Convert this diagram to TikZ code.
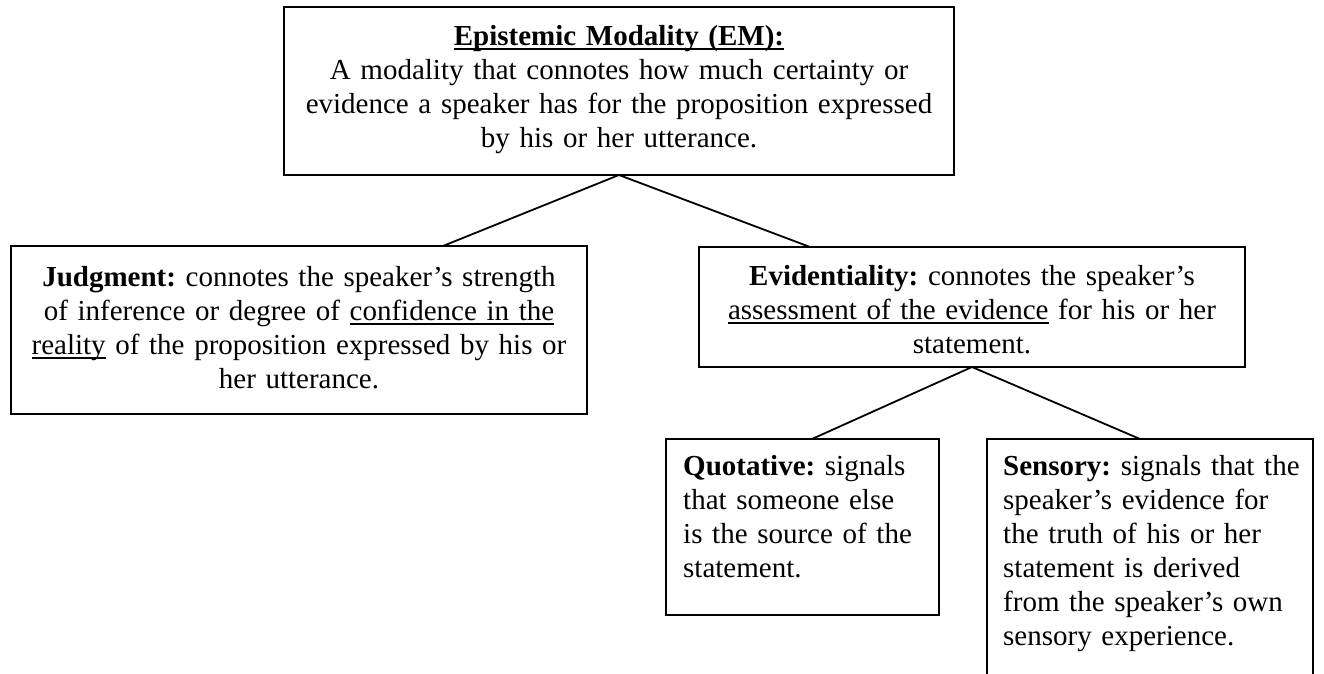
\documentclass[tikz,border=0pt]{standalone}
\usepackage{fontspec}
\setmainfont{Liberation Serif}
\frenchspacing
\newsavebox\ulbox
\newcommand{\myul}[1]{\leavevmode\sbox\ulbox{#1}\rlap{\rule[-4.5pt]{\wd\ulbox}{1.6pt}}\usebox\ulbox}
\begin{document}
\begin{tikzpicture}[x=1pt,y=-1pt,
  box/.style={draw, line width=1.8pt, rectangle, inner sep=0pt, outer sep=0pt, anchor=north west},
  txt/.style={inner sep=0pt, anchor=north, font=\fontsize{29}{34}\selectfont\frenchspacing},
  link/.style={line width=1.8pt}]
\useasboundingbox (0,0) rectangle (1324,674);
\fill[white] (0,0) rectangle (1324,674);
% boxes
\node[box, minimum width=670pt, minimum height=168pt] (topbox) at (284,7) {};
\node[box, minimum width=576pt, minimum height=168pt] (judbox) at (11,246) {};
\node[box, minimum width=546pt, minimum height=120pt] (evibox) at (699,247) {};
\node[box, minimum width=273pt, minimum height=176pt] (quobox) at (666,439) {};
\node[box, minimum width=326pt, minimum height=300pt] (senbox) at (987,439) {};
% texts
\node[txt, text width=660pt, align=center] (toptext) at (619,21.2)
  {\strut\myul{\textbf{Epistemic Modality (EM):}}\\
   A modality that connotes how much certainty or\\
   evidence a speaker has for the proposition expressed\\
   by his or her utterance.};
\node[txt, text width=560pt, align=center] (judtext) at (299,262.2)
  {\strut\textbf{Judgment:} connotes the speaker’s strength\\
   of inference or degree of \myul{confidence in the}\\
   \myul{reality} of the proposition expressed by his or\\
   her utterance.};
\node[txt, text width=530pt, align=center] (evitext) at (972,261.2)
  {\strut\textbf{Evidentiality:} connotes the speaker’s\\
   \myul{assessment of the evidence} for his or her\\
   statement.};
\node[txt, anchor=north west, text width=250pt, align=left] (quotext) at (683,451)
  {\strut\textbf{Quotative:} signals\\
   that someone else\\
   is the source of the\\
   statement.};
\node[txt, anchor=north west, text width=330pt, align=left] (sentext) at (1003,451)
  {\strut\textbf{Sensory:} signals that the\\
   speaker’s evidence for\\
   the truth of his or her\\
   statement is derived\\
   from the speaker’s own\\
   sensory experience.};
% connectors
\draw[link] (topbox.south) -- ([xshift=144pt]judbox.north);
\draw[link] (topbox.south) -- ([xshift=-162pt]evibox.north);
\draw[link] (evibox.south) -- ([xshift=9.5pt]quobox.north);
\draw[link] (evibox.south) -- ([xshift=-10pt]senbox.north);
\end{tikzpicture}
\end{document}
